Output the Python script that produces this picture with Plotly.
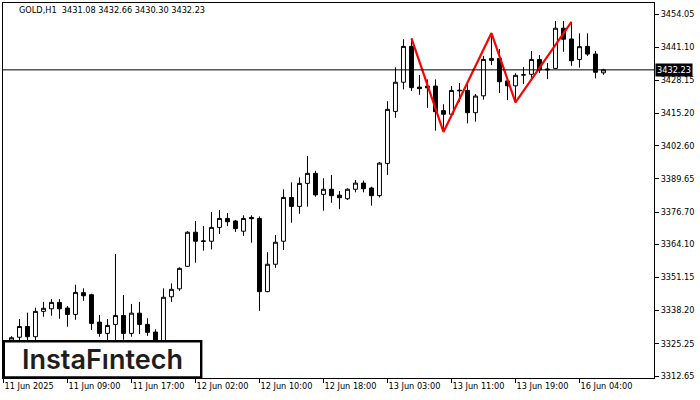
import plotly.graph_objects as go

# ---- data ----
days = ["11 Jun", "12 Jun", "13 Jun", "16 Jun"]
hours = ["01:00", "02:00", "03:00", "04:00", "05:00", "06:00", "07:00", "08:00",
         "09:00", "10:00", "11:00", "12:00", "13:00", "14:00", "15:00", "16:00",
         "17:00", "18:00", "19:00", "20:00", "21:00", "22:00", "23:00"]
times = [f"{d} {h}" for d in days for h in hours][:76]

opens = [3324.8, 3326.6, 3327.8, 3332.0, 3328.0, 3337.9, 3338.9, 3341.4, 3339.2, 3336.7,
         3345.2, 3344.4, 3333.7, 3329.3, 3332.8, 3336.3, 3329.3, 3337.2, 3332.8, 3329.8,
         3325.8, 3343.6, 3346.7, 3355.5, 3368.8, 3365.2, 3365.3, 3370.7, 3374.2, 3373.2,
         3369.2, 3374.6, 3374.2, 3345.6, 3356.3, 3365.3, 3382.4, 3378.9, 3387.9, 3391.8,
         3383.6, 3385.6, 3383.3, 3381.9, 3385.6, 3388.0, 3386.1, 3383.1, 3395.7, 3416.0,
         3427.4, 3441.4, 3425.5, 3425.9, 3425.9, 3416.3, 3414.9, 3424.3, 3424.2, 3415.5,
         3422.1, 3435.9, 3436.7, 3427.9, 3426.0, 3430.2, 3430.5, 3436.3, 3432.2, 3432.8,
         3448.5, 3444.3, 3436.3, 3441.4, 3438.4, 3431.08]
highs = [3325.6, 3328.2, 3334.9, 3337.4, 3339.3, 3341.6, 3342.7, 3342.7, 3340.0, 3348.3,
         3346.9, 3344.8, 3336.5, 3334.9, 3360.3, 3344.3, 3340.8, 3341.6, 3335.2, 3330.9,
         3346.9, 3348.8, 3355.1, 3369.2, 3373.2, 3371.2, 3376.7, 3377.5, 3376.3, 3373.6,
         3375.4, 3375.4, 3375.0, 3361.0, 3367.7, 3385.6, 3388.3, 3390.2, 3398.6, 3392.8,
         3389.9, 3391.2, 3384.9, 3386.0, 3389.2, 3389.0, 3386.6, 3396.2, 3420.0, 3433.2,
         3444.2, 3444.5, 3430.2, 3428.5, 3428.5, 3418.8, 3425.9, 3427.1, 3426.6, 3422.8,
         3437.7, 3446.6, 3440.4, 3429.4, 3430.9, 3433.3, 3439.6, 3438.0, 3434.9, 3451.3,
         3451.3, 3451.0, 3446.5, 3446.5, 3439.6, 3432.66]
lows = [3322.0, 3324.5, 3325.0, 3324.8, 3326.3, 3335.8, 3336.2, 3335.0, 3331.9, 3334.6,
        3342.0, 3330.6, 3328.0, 3326.4, 3326.5, 3326.8, 3328.0, 3329.0, 3328.3, 3324.5,
        3324.0, 3341.6, 3345.9, 3355.3, 3356.9, 3361.6, 3362.1, 3368.1, 3371.2, 3368.9,
        3367.4, 3364.7, 3338.1, 3345.4, 3354.9, 3361.9, 3372.5, 3376.0, 3378.8, 3382.7,
        3377.2, 3380.3, 3377.8, 3381.4, 3384.4, 3384.4, 3379.2, 3382.4, 3391.2, 3413.5,
        3424.6, 3424.0, 3422.5, 3417.4, 3408.5, 3408.0, 3414.6, 3419.7, 3411.3, 3412.0,
        3420.6, 3434.1, 3423.2, 3420.4, 3419.5, 3426.7, 3427.9, 3431.0, 3428.6, 3432.7,
        3439.3, 3433.8, 3433.1, 3437.7, 3428.9, 3430.30]
closes = [3325.2, 3327.6, 3332.0, 3328.0, 3337.9, 3339.1, 3341.4, 3338.9, 3336.7, 3345.3,
          3344.0, 3333.2, 3329.3, 3332.4, 3336.3, 3329.3, 3337.2, 3332.8, 3329.7, 3326.0,
          3343.4, 3346.5, 3354.7, 3368.8, 3365.3, 3365.4, 3370.7, 3374.2, 3372.9, 3370.2,
          3374.2, 3374.1, 3345.6, 3356.3, 3364.9, 3382.4, 3378.9, 3387.9, 3391.8, 3383.4,
          3385.6, 3383.1, 3382.3, 3385.6, 3388.0, 3385.8, 3383.1, 3395.8, 3416.8, 3427.4,
          3441.4, 3425.3, 3424.9, 3425.2, 3415.9, 3414.9, 3424.2, 3424.1, 3415.5, 3422.0,
          3436.3, 3436.7, 3427.6, 3426.0, 3430.1, 3430.3, 3436.3, 3432.2, 3432.5, 3448.5,
          3444.2, 3435.8, 3441.3, 3438.4, 3431.3, 3432.23]

# triple-top pattern vertices
pattern_times = ["13 Jun 06:00", "13 Jun 10:00", "13 Jun 16:00", "13 Jun 19:00", "16 Jun 03:00"]
pattern_prices = [3444.5, 3408.0, 3446.6, 3419.5, 3451.0]

tick_times = ["11 Jun 01:00", "11 Jun 09:00", "11 Jun 17:00", "12 Jun 02:00", "12 Jun 10:00",
              "12 Jun 18:00", "13 Jun 03:00", "13 Jun 11:00", "13 Jun 19:00", "16 Jun 04:00"]
tick_labels = ["11 Jun 2025", "11 Jun 09:00", "11 Jun 17:00", "12 Jun 02:00", "12 Jun 10:00",
               "12 Jun 18:00", "13 Jun 03:00", "13 Jun 11:00", "13 Jun 19:00", "16 Jun 04:00"]

price_ticks = [3312.65, 3325.25, 3338.20, 3351.15, 3364.10, 3376.70, 3389.65,
               3402.60, 3415.20, 3428.15, 3441.10, 3454.05]
price_labels = [f"{v:.2f}" for v in price_ticks]

symbol = "GOLD,H1"
last_price = closes[-1]
title_text = f"{symbol}  {opens[-1]:.2f} {highs[-1]:.2f} {lows[-1]:.2f} {closes[-1]:.2f}"

FONT = "DejaVu Sans"
FS = 8.2

fig = go.Figure()
fig.add_trace(go.Candlestick(
    x=times, open=opens, high=highs, low=lows, close=closes,
    increasing=dict(line=dict(color="black", width=1), fillcolor="white"),
    decreasing=dict(line=dict(color="black", width=1), fillcolor="black"),
    whiskerwidth=0, showlegend=False, hoverinfo="skip",
))
fig.add_trace(go.Scatter(
    x=pattern_times, y=pattern_prices, mode="lines",
    line=dict(color="#ff0000", width=2.2), showlegend=False, hoverinfo="skip",
))

# plot area geometry (px): left 3, right 654, top 3, bottom 378
PL, PR, PT, PB = 3, 654, 3, 378
PW, PH = PR - PL, PB - PT

def px_x(x):
    return (x - PL) / PW

def px_y(y):
    return (PB - y) / PH

fig.update_layout(
    width=700, height=400,
    margin=dict(l=PL, r=700 - PR, t=PT, b=400 - PB, autoexpand=False),
    paper_bgcolor="white", plot_bgcolor="white",
    font=dict(family=FONT, size=FS, color="black"),
    xaxis=dict(
        type="category", range=[-0.06, 81.315],
        tickvals=tick_times, ticktext=tick_labels,
        ticks="outside", ticklen=4, tickcolor="black", tickwidth=1,
        ticklabelposition="outside right",
        showline=True, linecolor="black", linewidth=1, mirror=True,
        showgrid=False, zeroline=False, rangeslider=dict(visible=False),
        tickfont=dict(family=FONT, size=FS, color="black"),
    ),
    yaxis=dict(
        side="right", range=[3311.87, 3458.35],
        tickvals=price_ticks, ticktext=price_labels,
        ticks="outside", ticklen=4, tickcolor="black", tickwidth=1,
        showline=True, linecolor="black", linewidth=1, mirror=True,
        showgrid=False, zeroline=False,
        tickfont=dict(family=FONT, size=FS, color="black"),
    ),
    shapes=[
        dict(type="line", xref="paper", yref="y", x0=0, x1=1, y0=last_price, y1=last_price,
             line=dict(color="black", width=1), layer="above"),
        dict(type="rect", xref="paper", yref="paper",
             x0=px_x(3.8), x1=px_x(201.2), y0=px_y(377.5), y1=px_y(341.3),
             fillcolor="white", line=dict(color="black", width=2.4), layer="above"),
    ],
    annotations=[
        dict(xref="paper", yref="paper", x=px_x(17), y=px_y(10), xanchor="left", yanchor="middle",
             text=title_text, showarrow=False, font=dict(family=FONT, size=FS, color="black")),
        dict(xref="paper", yref="y", x=1, y=last_price, xanchor="left", yanchor="middle",
             xshift=1, text=f"{last_price:.2f}", showarrow=False, bgcolor="black",
             borderpad=1, font=dict(family=FONT, size=FS, color="white")),
        dict(xref="paper", yref="paper", x=px_x(102), y=px_y(359), xanchor="center", yanchor="middle",
             text="InstaFıntech", showarrow=False,
             font=dict(family="Inter", size=27, color="#1e1e1e", weight=600)),
    ],
)

fig.write_html("out.html", config={"displayModeBar": False},
               post_script="document.body.style.margin='0px';")
